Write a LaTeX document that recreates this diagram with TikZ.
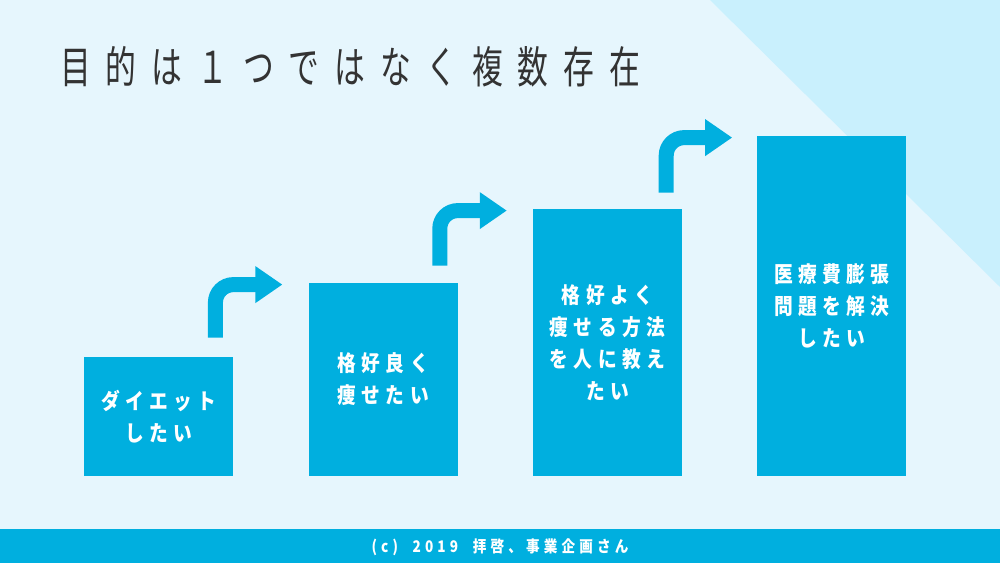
\documentclass[tikz,border=0pt]{standalone}
\usepackage{fontspec}
\usetikzlibrary{arrows.meta,positioning,calc}
\newfontfamily\jptitle[FakeStretch=0.7,LetterSpace=34]{Noto Sans CJK JP}
\newfontfamily\jpbox[FakeStretch=0.85,LetterSpace=25]{Noto Sans CJK JP}
\newfontfamily\jpfoot[FakeStretch=0.85,LetterSpace=26]{Noto Sans CJK JP}
\definecolor{bgblue}{HTML}{E6F6FD}
\definecolor{triblue}{HTML}{C9F0FD}
\definecolor{stepblue}{HTML}{00AFDF}
\definecolor{titlegray}{HTML}{333333}
\begin{document}
\begin{tikzpicture}[x=1pt,y=1pt,
    stepbox/.style={fill=stepblue,text=white,anchor=south west,minimum width=149pt,inner sep=0pt,align=center,
        font=\jpbox\bfseries\fontsize{22}{32}\selectfont},
    steparrow/.style={draw=stepblue,line width=15pt,rounded corners=18pt,-{Triangle[length=27pt,width=35pt]}}]
    % background
    \fill[bgblue] (0,0) rectangle (1000,563);
    \fill[triblue] (710,563) -- (1000,563) -- (1000,276) -- cycle;
    \useasboundingbox (0,0) rectangle (1000,563);
    \node[anchor=west,text=titlegray,inner sep=0pt,font=\jptitle\fontsize{44}{44}\selectfont] (title) at (60,496) {目的は１つではなく複数存在};
    % steps
    \node[stepbox,minimum height=119pt] (diet) at (84,87) {ダイエット\\したい};
    \node[stepbox,minimum height=193pt,right=75pt of diet.south east,anchor=south west] (kakko) {格好良く\\痩せたい};
    \node[stepbox,minimum height=267pt,right=75pt of kakko.south east,anchor=south west] (teach) {格好よく\\痩せる方法\\を人に教え\\たい};
    \node[stepbox,minimum height=340pt,right=75pt of teach.south east,anchor=south west] (iryo) {医療費膨張\\問題を解決\\したい};
    \draw[steparrow] ($(diet.north east)+(-18,19)$) |- ($(kakko.north west)+(-26,-2)$);
    \draw[steparrow] ($(kakko.north east)+(-18,17)$) |- ($(teach.north west)+(-26,-2)$);
    \draw[steparrow] ($(teach.north east)+(-16,16)$) |- ($(iryo.north west)+(-25,-2)$);
    % footer
    \fill[stepblue] (0,0) rectangle (1000,34);
    \node[text=white,font=\jpfoot\bfseries\fontsize{16}{16}\selectfont] (foot) at (500,16) {(c)\ \ 2019\ \ 拝啓、事業企画さん};
\end{tikzpicture}
\end{document}
